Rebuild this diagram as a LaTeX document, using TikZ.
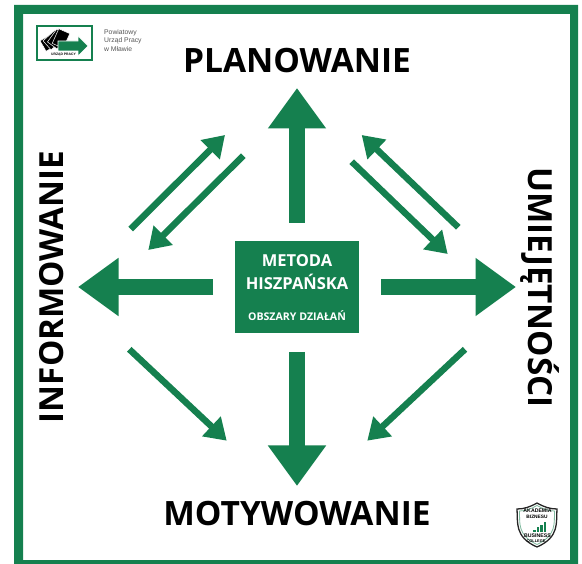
\documentclass[tikz,border=0pt]{standalone}
\usepackage{fontspec}
\setmainfont{Open Sans}
\newfontfamily\logofont{Liberation Sans}
\usetikzlibrary{arrows.meta,decorations.text}
\definecolor{brandgreen}{HTML}{15804F}
\definecolor{labelgrey}{HTML}{555555}
\tikzset{
  x=1pt,y=-1pt,
  title/.style={font=\fontsize{33.5}{36}\selectfont\bfseries,text=black,inner sep=0pt},
  sidetitle/.style={font=\fontsize{33.2}{36}\selectfont\bfseries,text=black,inner sep=0pt},
  bigarrow/.style={draw=brandgreen,line width=16pt,-{Triangle[length=40.5pt,width=55.5pt]}},
  smallarrow/.style={draw=brandgreen,line width=6.5pt,-{Triangle[length=21pt,width=26pt]}},
  boxtext/.style={text=white,inner sep=0pt,font=\bfseries},
  card/.style={fill=black,draw=white,line width=.5pt},
}
\begin{document}
\begin{tikzpicture}
\useasboundingbox (0,0) rectangle (582,564);
% frame
\fill[brandgreen,even odd rule] (14,5) rectangle (578,564) (23,14) rectangle (570,560);
% centre box
\node[fill=brandgreen,minimum width=124.5pt,minimum height=92.5pt,inner sep=0pt] (centre) at (297,287) {};
\node[boxtext,font=\fontsize{16.5}{18}\selectfont\bfseries] (m1) at (297,260.5) {METODA};
\node[boxtext,font=\fontsize{16.5}{18}\selectfont\bfseries] (m2) at (297,281.5) {HISZPAŃSKA};
\node[boxtext,font=\fontsize{10.6}{12}\selectfont\bfseries] (m3) at (297,316) {OBSZARY DZIAŁAŃ};
% titles
\node[title] (plan) at (297,61) {PLANOWANIE};
\node[title] (moty) at (297,514) {MOTYWOWANIE};
\node[sidetitle,rotate=90] (info) at (52,287) {INFORMOWANIE};
\node[sidetitle,rotate=-90] (umie) at (540,287.5) {UMIEJĘTNOŚCI};
% big arrows
\coordinate (upS) at (297,223); \coordinate (upE) at (297,88);
\coordinate (dnS) at (297,352); \coordinate (dnE) at (297,486);
\coordinate (lfS) at (213,287); \coordinate (lfE) at (78,287);
\coordinate (rtS) at (381,287); \coordinate (rtE) at (516,287);
\draw[bigarrow] (upS) -- (upE);
\draw[bigarrow] (dnS) -- (dnE);
\draw[bigarrow] (lfS) -- (lfE);
\draw[bigarrow] (rtS) -- (rtE);
% diagonal arrows
\coordinate (a1S) at (130.7,229); \coordinate (a1E) at (225,135);
\coordinate (a2S) at (243.3,155.7); \coordinate (a2E) at (148.3,250);
\coordinate (a3S) at (458.3,227.3); \coordinate (a3E) at (361.7,135);
\coordinate (a4S) at (351.7,161.7); \coordinate (a4E) at (447.7,254);
\coordinate (a5S) at (129.3,349.3); \coordinate (a5E) at (226.7,440.7);
\coordinate (a6S) at (465,349.3); \coordinate (a6E) at (367.3,440.7);
\foreach \n in {a1,a2,a3,a4,a5,a6}{\draw[smallarrow] (\n S) -- (\n E);}
% logo: labour office
\draw[brandgreen,line width=1.4pt,fill=white] (37,26) rectangle (92,60);
\foreach \r/\cx/\cy in {-60/50/42,-48/53/40,-36/57/39,-24/61/38.5}{
  \fill[card,rotate around={\r:(\cx,\cy)}] (\cx-6,\cy-8) rectangle (\cx+6,\cy+8);
}
\fill[brandgreen,draw=white,line width=.6pt] (58,41) -- (78,41) -- (78,36) -- (88,46) -- (78,56) -- (78,51) -- (58,51) -- cycle;
\node[inner sep=0pt,font=\logofont\fontsize{3.4}{4}\selectfont\bfseries,text=black] (uplogo) at (63.5,54.5) {URZĄD PRACY};
\node[inner sep=0pt,anchor=north west,align=left,text=labelgrey,font=\logofont\fontsize{6.8}{8.8}\selectfont] (upname) at (104,29) {Powiatowy\\Urząd Pracy\\w Mławie};
% logo: shield
\draw[black!85,line width=1.3pt,fill=white] (537,503) .. controls (530,507) and (524,509) .. (517,509) .. controls (518,522) and (514,537) .. (537,547) .. controls (560,537) and (556,522) .. (557,509) .. controls (550,509) and (544,507) .. (537,503) -- cycle;
\draw[brandgreen!55,line width=.8pt] (537,505.5) .. controls (531,509) and (525,511) .. (519.5,511) .. controls (520,523) and (517,535) .. (537,544.5) .. controls (557,535) and (554,523) .. (554.5,511) .. controls (549,511) and (543,509) .. (537,505.5) -- cycle;
\node[inner sep=0pt,font=\logofont\fontsize{5.2}{6}\selectfont\bfseries] (aka) at (537.5,511) {AKADEMIA};
\node[inner sep=0pt,font=\logofont\fontsize{4.8}{6}\selectfont\bfseries] (biz) at (537,516.5) {BIZNESU};
\foreach \bx/\by in {533/530,536.5/527,540/525,543.5/522}{
  \fill[brandgreen] (\bx,\by) rectangle (\bx+2.6,532);
}
\node[inner sep=0pt,font=\logofont\fontsize{5.2}{6}\selectfont\bfseries] (bus) at (537.5,536) {BUSINESS};
\node[inner sep=0pt,font=\logofont\fontsize{3.9}{4}\selectfont\bfseries] (col) at (536,541.5) {COLLEGE};
\end{tikzpicture}
\end{document}
